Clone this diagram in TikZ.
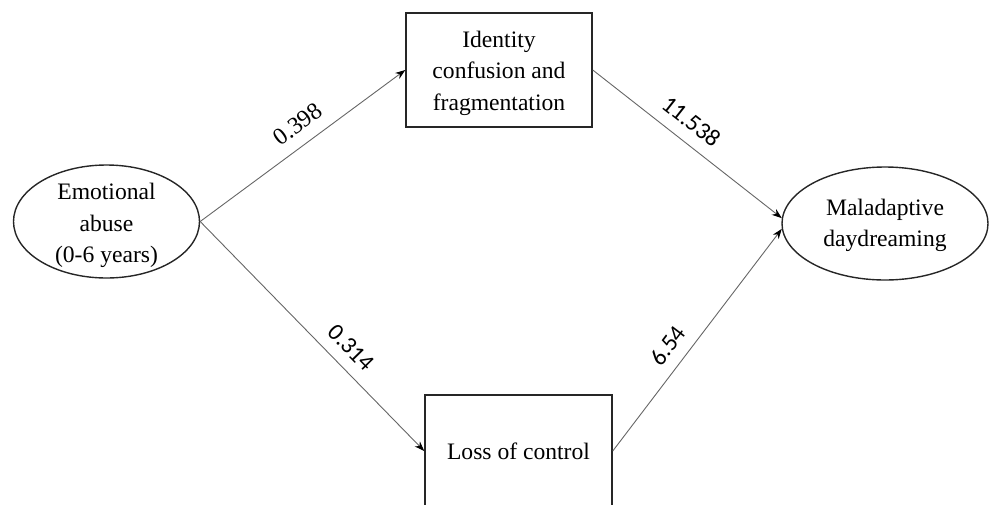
\documentclass[tikz,border=0pt]{standalone}
\usepackage{fontspec}
\setmainfont{Liberation Serif}
\newfontfamily\numfont{Carlito}
\usepackage{tikz}
\usetikzlibrary{shapes.geometric, arrows.meta}
\tikzstyle{arrow} = [draw=black!60, line width=.45pt, -{Stealth[length=5pt,width=3.6pt,black]}]
\tikzstyle{latent} = [ellipse, draw=black!85, line width=.7pt, inner sep=0pt]
\tikzstyle{observed} = [rectangle, draw=black!85, line width=.75pt, inner sep=0pt]
\tikzstyle{coef} = [sloped, above=2.5pt, font=\fontsize{12}{14}\selectfont]
\tikzstyle{txt} = [align=center, font=\fontsize{11.8}{15.8}\selectfont]

\begin{document}
\begin{tikzpicture}[x=.5pt,y=-.5pt]
      \clip(0,0)rectangle(990,504);
      \node[latent,minimum width=93pt,minimum height=56.5pt,label={[txt,yshift=-2pt]center:Emotional\\abuse\\(0-6 years)}](abuse)at(106.5,221.5){};
      \node[observed,minimum width=93pt,minimum height=57pt,label={[txt,yshift=-1.5pt]center:Identity\\confusion and\\fragmentation}](ident)at(499,70){};
      \node[observed,minimum width=93.5pt,minimum height=56pt,txt](loss)at(518.5,451){Loss of control};
      \node[latent,minimum width=103pt,minimum height=56.5pt,label={[txt,yshift=-1pt]center:Maladaptive\\daydreaming}](dream)at(885,223.5){};
      \draw[arrow](abuse.east)--(ident.west)node[coef,pos=.535]{0.398};
      \draw[arrow](abuse.east)--(loss.west)node[coef,pos=.61]{\numfont 0.314};
      \draw[arrow](ident.east)--(dream.177)node[coef,pos=.455]{\numfont 11.538};
      \draw[arrow](loss.east)--(dream.183)node[coef,pos=.42]{\numfont 6.54};
    \end{tikzpicture}
\end{document}
